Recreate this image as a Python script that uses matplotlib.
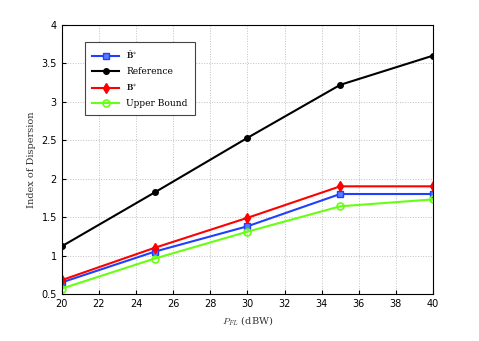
import matplotlib
matplotlib.use("Agg")
import matplotlib.pyplot as plt

plt.rcParams["mathtext.fontset"] = "cm"

power = [20, 25, 30, 35, 40]
b_hat = [0.65, 1.05, 1.38, 1.80, 1.80]
reference = [1.12, 1.82, 2.53, 3.22, 3.60]
b_star = [0.68, 1.10, 1.49, 1.90, 1.90]
upper = [0.57, 0.96, 1.31, 1.64, 1.73]

fig = plt.figure(figsize=(4.79, 3.41), dpi=100)
ax = fig.add_axes([0.129, 0.138, 0.775, 0.789])

ax.plot(power, b_hat, color="#1f3fff", marker="s", ms=4, lw=1.5,
        mfc="#5a7bff", label=r"$\hat{\mathbf{B}}^{*}$")
ax.plot(power, reference, color="black", marker="o", ms=4, lw=1.5,
        label="Reference")
ax.plot(power, b_star, color="#ff0000", marker="d", ms=5, lw=1.5,
        label=r"$\mathbf{B}^{*}$")
ax.plot(power, upper, color="#66ff11", marker="o", ms=5, lw=1.5,
        mfc="none", mew=1.2, label="Upper Bound")

ax.set_xlim(20, 40)
ax.set_ylim(0.5, 4)
ax.set_xticks(range(20, 41, 2))
ax.set_yticks([0.5, 1, 1.5, 2, 2.5, 3, 3.5, 4])
ax.set_yticklabels(["0.5", "1", "1.5", "2", "2.5", "3", "3.5", "4"])
ax.tick_params(direction="in", labelsize=7, length=3)
ax.grid(True, linestyle=":", color="#c0c0c0", lw=0.7)

ax.set_xlabel(r"$P_{FL}$ (dBW)", family="DejaVu Serif", fontsize=7, color="#333333")
ax.set_ylabel("Index of Dispersion", family="DejaVu Serif", fontsize=7, color="#333333")

leg = ax.legend(loc="upper left", bbox_to_anchor=(0.05, 0.955),
                prop={"family": "DejaVu Serif", "size": 6.5},
                fancybox=False, edgecolor="#444444", framealpha=1,
                borderpad=0.8, labelspacing=0.65, handlelength=3)
leg.get_frame().set_linewidth(0.8)

fig.savefig("out.png", dpi=100)
